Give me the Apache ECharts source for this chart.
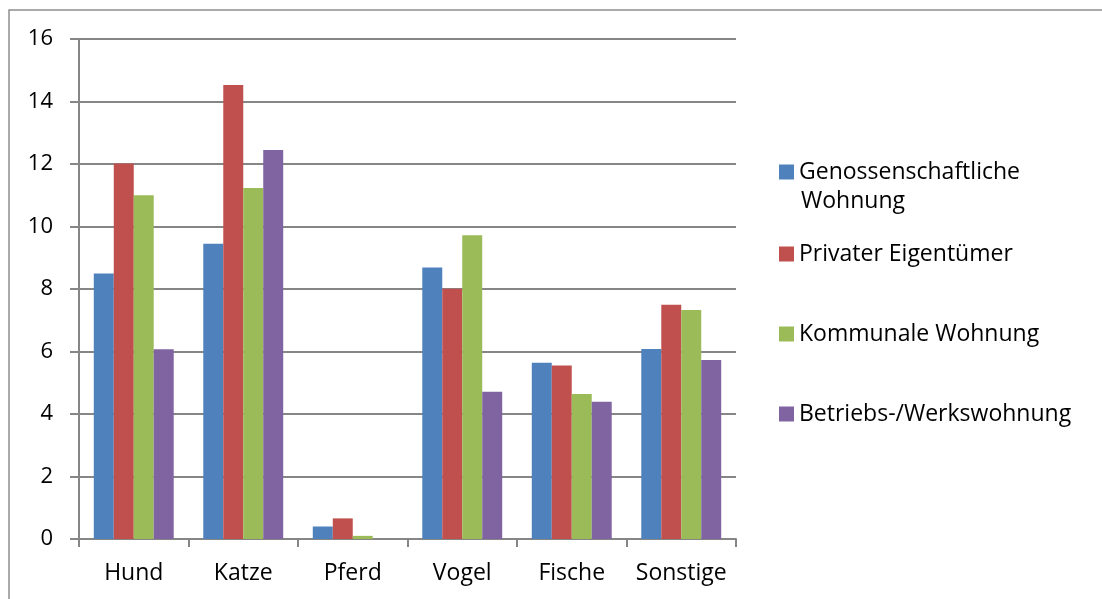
<!DOCTYPE html>
<html>
<head>
    <meta charset="UTF-8">
    <title>Haustiere nach Wohnform</title>
    <script src="https://cdn.jsdelivr.net/npm/echarts@6/dist/echarts.min.js"></script>
    <style>
        html, body { margin: 0; padding: 0; background: #fff; }
        #main { width: 1102px; height: 599px; }
    </style>
</head>
<body>
<div id="main"></div>
<script type="text/javascript">
    // Kategorien und Werte
    var categories = ['Hund', 'Katze', 'Pferd', 'Vogel', 'Fische', 'Sonstige'];
    var seriesNames = ['Genossenschaftliche Wohnung', 'Privater Eigentümer', 'Kommunale Wohnung', 'Betriebs-/Werkswohnung'];
    var genossenschaft = [8.5, 9.45, 0.4, 8.69, 5.64, 6.08];
    var privat = [12.02, 14.53, 0.66, 8.01, 5.55, 7.5];
    var kommunal = [11.0, 11.23, 0.1, 9.72, 4.64, 7.33];
    var betrieb = [6.07, 12.45, 0, 4.71, 4.39, 5.73];
    var yTicks = [0, 2, 4, 6, 8, 10, 12, 14, 16];

    var colors = ['#4F81BD', '#C0504D', '#9BBB59', '#8064A2'];
    var values = [genossenschaft, privat, kommunal, betrieb];
    var font = '"Open Sans", "Liberation Sans", sans-serif';

    var myChart = echarts.init(document.getElementById('main'));

    var series = [];
    for (var i = 0; i < seriesNames.length; i++) {
        series.push({
            name: seriesNames[i],
            type: 'bar',
            data: values[i],
            barGap: '0%',
            barCategoryGap: '27%',
            itemStyle: { color: colors[i] }
        });
    }

    // eine Legende pro Eintrag, damit die Abstaende wie im Original sind
    var legendTops = [160.5, 242.5, 322.5, 402.5];
    var legends = [];
    for (var j = 0; j < seriesNames.length; j++) {
        legends.push({
            data: [seriesNames[j]],
            left: 779,
            top: legendTops[j],
            padding: 0,
            itemWidth: 15,
            itemHeight: 15,
            itemGap: 7,
            icon: 'rect',
            selectedMode: false,
            textStyle: { color: '#000', fontSize: 23, fontFamily: font },
            formatter: function (name) {
                // zweite Zeile "Wohnung" kommt als eigener Text darunter
                return name === 'Genossenschaftliche Wohnung' ? 'Genossenschaftliche' : name;
            }
        });
    }

    var option = {
        animation: false,
        color: colors,
        textStyle: { fontFamily: font },
        grid: { left: 79, top: 39, right: 366, bottom: 60 },
        legend: legends,
        graphic: [{
            type: 'rect',
            shape: { x: 9, y: 10, width: 1200, height: 700 },
            style: { fill: 'none', stroke: '#8f8f8f', lineWidth: 1.5 },
            silent: true,
            z: -10
        }, {
            type: 'text',
            left: 801,
            top: 190,
            silent: true,
            style: {
                text: 'Wohnung',
                fill: '#000',
                fontSize: 23,
                fontFamily: font
            }
        }],
        xAxis: {
            type: 'category',
            data: categories,
            axisLine: { lineStyle: { color: '#868686', width: 2 } },
            axisTick: { show: true, interval: 0, length: 8, lineStyle: { color: '#868686', width: 2 } },
            axisLabel: { interval: 0, color: '#000', fontSize: 23, fontFamily: font, margin: 23 }
        },
        yAxis: {
            type: 'value',
            min: 0,
            max: 16,
            interval: 2,
            axisLine: { show: true, lineStyle: { color: '#868686', width: 2 } },
            axisTick: { show: true, length: 9, lineStyle: { color: '#868686', width: 2 } },
            splitLine: { lineStyle: { color: '#868686', width: 2 } },
            axisLabel: {
                color: '#000', fontSize: 22, fontFamily: font, margin: 26,
                formatter: function (v) { return yTicks.indexOf(v) >= 0 ? String(v) : ''; }
            }
        },
        series: series
    };

    myChart.setOption(option);
</script>
</body>
</html>
